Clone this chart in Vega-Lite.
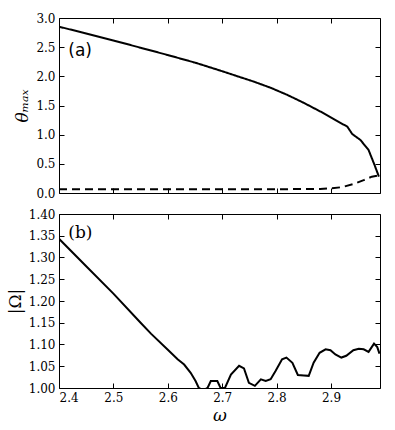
{
  "$schema": "https://vega.github.io/schema/vega-lite/v6.json",
  "background": "white",
  "padding": {"left": 5, "top": 11, "right": 5, "bottom": 0},
  "spacing": 7,
  "config": {
    "view": {"stroke": "#000", "strokeWidth": 1},
    "axis": {
      "domain": false, "grid": false, "tickColor": "#000", "tickWidth": 1, "tickSize": -5,
      "labelPadding": 9, "labelFont": "DejaVu Serif", "labelFontSize": 12, "labelColor": "#000",
      "titleFont": "DejaVu Serif", "titleFontWeight": "normal", "titleColor": "#000", "titleFontSize": 17
    }
  },
  "datasets": {
    "theta": [
      {"omega": 2.40, "theta": 2.851, "branch": "upper"},
      {"omega": 2.45, "theta": 2.735, "branch": "upper"},
      {"omega": 2.50, "theta": 2.615, "branch": "upper"},
      {"omega": 2.55, "theta": 2.49, "branch": "upper"},
      {"omega": 2.60, "theta": 2.365, "branch": "upper"},
      {"omega": 2.65, "theta": 2.235, "branch": "upper"},
      {"omega": 2.697, "theta": 2.097, "branch": "upper"},
      {"omega": 2.73, "theta": 1.995, "branch": "upper"},
      {"omega": 2.758, "theta": 1.91, "branch": "upper"},
      {"omega": 2.79, "theta": 1.80, "branch": "upper"},
      {"omega": 2.82, "theta": 1.68, "branch": "upper"},
      {"omega": 2.85, "theta": 1.545, "branch": "upper"},
      {"omega": 2.881, "theta": 1.394, "branch": "upper"},
      {"omega": 2.91, "theta": 1.24, "branch": "upper"},
      {"omega": 2.93, "theta": 1.137, "branch": "upper"},
      {"omega": 2.939, "theta": 1.011, "branch": "upper"},
      {"omega": 2.954, "theta": 0.909, "branch": "upper"},
      {"omega": 2.969, "theta": 0.737, "branch": "upper"},
      {"omega": 2.98, "theta": 0.48, "branch": "upper"},
      {"omega": 2.988, "theta": 0.28, "branch": "upper"},
      {"omega": 2.40, "theta": 0.065, "branch": "lower"},
      {"omega": 2.50, "theta": 0.065, "branch": "lower"},
      {"omega": 2.60, "theta": 0.065, "branch": "lower"},
      {"omega": 2.70, "theta": 0.065, "branch": "lower"},
      {"omega": 2.80, "theta": 0.065, "branch": "lower"},
      {"omega": 2.88, "theta": 0.07, "branch": "lower"},
      {"omega": 2.90, "theta": 0.08, "branch": "lower"},
      {"omega": 2.92, "theta": 0.10, "branch": "lower"},
      {"omega": 2.94, "theta": 0.15, "branch": "lower"},
      {"omega": 2.96, "theta": 0.22, "branch": "lower"},
      {"omega": 2.975, "theta": 0.28, "branch": "lower"},
      {"omega": 2.988, "theta": 0.30, "branch": "lower"}
    ],
    "freq": [
      {"omega": 2.400, "Omega": 1.343},
      {"omega": 2.45, "Omega": 1.280},
      {"omega": 2.50, "Omega": 1.217},
      {"omega": 2.55, "Omega": 1.150},
      {"omega": 2.569, "Omega": 1.125},
      {"omega": 2.60, "Omega": 1.088},
      {"omega": 2.618, "Omega": 1.066},
      {"omega": 2.630, "Omega": 1.054},
      {"omega": 2.642, "Omega": 1.035},
      {"omega": 2.651, "Omega": 1.016},
      {"omega": 2.657, "Omega": 1.000},
      {"omega": 2.665, "Omega": 0.995},
      {"omega": 2.673, "Omega": 1.000},
      {"omega": 2.679, "Omega": 1.016},
      {"omega": 2.691, "Omega": 1.016},
      {"omega": 2.697, "Omega": 1.000},
      {"omega": 2.705, "Omega": 1.000},
      {"omega": 2.716, "Omega": 1.031},
      {"omega": 2.731, "Omega": 1.051},
      {"omega": 2.740, "Omega": 1.045},
      {"omega": 2.749, "Omega": 1.012},
      {"omega": 2.760, "Omega": 1.005},
      {"omega": 2.771, "Omega": 1.020},
      {"omega": 2.780, "Omega": 1.016},
      {"omega": 2.789, "Omega": 1.020},
      {"omega": 2.798, "Omega": 1.039},
      {"omega": 2.810, "Omega": 1.066},
      {"omega": 2.818, "Omega": 1.070},
      {"omega": 2.829, "Omega": 1.058},
      {"omega": 2.839, "Omega": 1.030},
      {"omega": 2.850, "Omega": 1.029},
      {"omega": 2.859, "Omega": 1.028},
      {"omega": 2.868, "Omega": 1.058},
      {"omega": 2.879, "Omega": 1.081},
      {"omega": 2.890, "Omega": 1.089},
      {"omega": 2.899, "Omega": 1.087},
      {"omega": 2.908, "Omega": 1.077},
      {"omega": 2.919, "Omega": 1.070},
      {"omega": 2.928, "Omega": 1.074},
      {"omega": 2.941, "Omega": 1.087},
      {"omega": 2.951, "Omega": 1.090},
      {"omega": 2.960, "Omega": 1.089},
      {"omega": 2.969, "Omega": 1.083},
      {"omega": 2.979, "Omega": 1.102},
      {"omega": 2.985, "Omega": 1.094},
      {"omega": 2.989, "Omega": 1.079}
    ]
  },
  "vconcat": [
    {
      "width": 321,
      "height": 175,
      "layer": [
        {
          "data": {"name": "theta"},
          "mark": {"type": "line", "color": "#000", "strokeWidth": 2, "clip": true},
          "encoding": {
            "x": {"field": "omega", "type": "quantitative", "scale": {"domain": [2.4, 2.99], "nice": false, "zero": false},
                  "axis": {"orient": "bottom", "values": [2.4, 2.5, 2.6, 2.7, 2.8, 2.9], "labels": false, "title": null}},
            "y": {"field": "theta", "type": "quantitative", "scale": {"domain": [0, 3], "nice": false},
                  "axis": {"orient": "left", "values": [0, 0.5, 1, 1.5, 2, 2.5, 3], "format": ".1f", "title": "θₘₐₓ", "titleFontStyle": "italic", "titlePadding": 4}},
            "detail": {"field": "branch"},
            "strokeDash": {"field": "branch", "type": "nominal", "scale": {"domain": ["upper", "lower"], "range": [[1, 0], [8, 5]]}, "legend": null}
          }
        },
        {
          "data": {"values": [{}]},
          "mark": {"type": "text", "text": "(a)", "font": "DejaVu Sans", "fontSize": 17, "align": "left", "baseline": "middle", "color": "#000"},
          "encoding": {
            "x": {"datum": 2.417, "type": "quantitative", "axis": null},
            "y": {"datum": 2.43, "type": "quantitative", "axis": null}
          }
        },
        {
          "data": {"values": [{}]},
          "mark": {"type": "rule", "opacity": 0},
          "encoding": {
            "x": {"datum": 2.5, "type": "quantitative", "axis": {"orient": "top", "values": [2.4, 2.5, 2.6, 2.7, 2.8, 2.9], "labels": false, "title": null}},
            "y": {"datum": 1, "type": "quantitative", "axis": {"orient": "right", "values": [0, 0.5, 1, 1.5, 2, 2.5, 3], "labels": false, "title": null}}
          }
        }
      ],
      "resolve": {"axis": {"x": "independent", "y": "independent"}}
    },
    {
      "width": 321,
      "height": 174,
      "layer": [
        {
          "data": {"name": "freq"},
          "mark": {"type": "line", "color": "#000", "strokeWidth": 2, "clip": true},
          "encoding": {
            "x": {"field": "omega", "type": "quantitative", "scale": {"domain": [2.4, 2.99], "nice": false, "zero": false},
                  "axis": {"orient": "bottom", "values": [2.4, 2.5, 2.6, 2.7, 2.8, 2.9], "format": ".1f", "title": "ω", "titleFontStyle": "italic", "titlePadding": 4}},
            "y": {"field": "Omega", "type": "quantitative", "scale": {"domain": [1, 1.4], "nice": false, "zero": false},
                  "axis": {"orient": "left", "values": [1, 1.05, 1.1, 1.15, 1.2, 1.25, 1.3, 1.35, 1.4], "format": ".2f", "title": "|Ω|", "titlePadding": 4}}
          }
        },
        {
          "data": {"values": [{}]},
          "mark": {"type": "text", "text": "(b)", "font": "DejaVu Serif", "fontSize": 17, "align": "left", "baseline": "middle", "color": "#000"},
          "encoding": {
            "x": {"datum": 2.417, "type": "quantitative", "axis": null},
            "y": {"datum": 1.357, "type": "quantitative", "axis": null}
          }
        },
        {
          "data": {"values": [{}]},
          "mark": {"type": "rule", "opacity": 0},
          "encoding": {
            "x": {"datum": 2.5, "type": "quantitative", "axis": {"orient": "top", "values": [2.4, 2.5, 2.6, 2.7, 2.8, 2.9], "labels": false, "title": null}},
            "y": {"datum": 1.1, "type": "quantitative", "axis": {"orient": "right", "values": [1, 1.05, 1.1, 1.15, 1.2, 1.25, 1.3, 1.35, 1.4], "labels": false, "title": null}}
          }
        }
      ],
      "resolve": {"axis": {"x": "independent", "y": "independent"}}
    }
  ]
}
